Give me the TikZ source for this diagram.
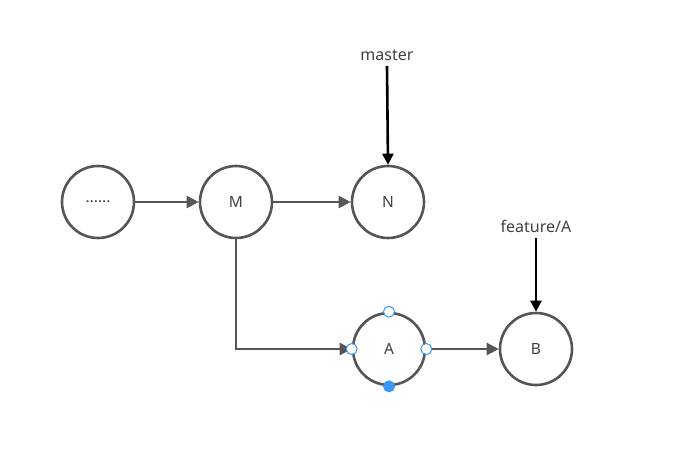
\documentclass[tikz,border=0pt]{standalone}
\usepackage{fontspec}
\setmainfont{Noto Sans}
\usetikzlibrary{arrows.meta}
\definecolor{linegray}{HTML}{555555}
\definecolor{handleblue}{HTML}{3A97F5}
\begin{document}
\begin{tikzpicture}[x=1pt,y=-1pt]
                \tikzset{commit/.style={circle, draw=linegray, line width=2.6pt,
                minimum size=72pt, inner sep=0pt, font=\fontsize{15.5}{18}\selectfont, text=black!75},
                 link/.style={draw=linegray, line width=2.6pt, -{Triangle[length=12pt,width=12pt]}},
                 ref/.style={draw=black, line width=2.6pt, -{Triangle[length=11pt,width=11pt]}},
                 reflabel/.style={font=\fontsize{16}{19}\selectfont, text=black!75},
                 handle/.style={circle, draw=handleblue, fill=white, line width=1pt, minimum size=11pt, inner sep=0pt}}

                \useasboundingbox (0,0) rectangle (678,460);

                \node[commit] (dots) at (98,202) {......};
                \node[commit] (M) at (236,202) {M};
                \node[commit] (N) at (388,202) {N};
                \node[commit] (A) at (389,349) {A};
                \node[commit] (B) at (536,349) {B};

                \node[reflabel] (master) at (387,55) {master};
                \node[reflabel] (feature) at (536,226) {feature/A};

                \draw[link] (dots) -- (M);
                \draw[link] (M) -- (N);
                \draw[link] (M.south) |- (A.west);
                \draw[link] (A) -- (B);

                \draw[ref] (master.south) ++(0,2) -- (N.north);
                \draw[ref] (feature.south) ++(0,2) -- (B.north);

                % selection handles on A
                \node[handle] (hn) at (A.north) {};
                \node[handle] (hw) at (A.west) {};
                \node[handle] (he) at (A.east) {};
                \node[handle, fill=handleblue] (hs) at (A.south) {};
            \end{tikzpicture}
\end{document}
